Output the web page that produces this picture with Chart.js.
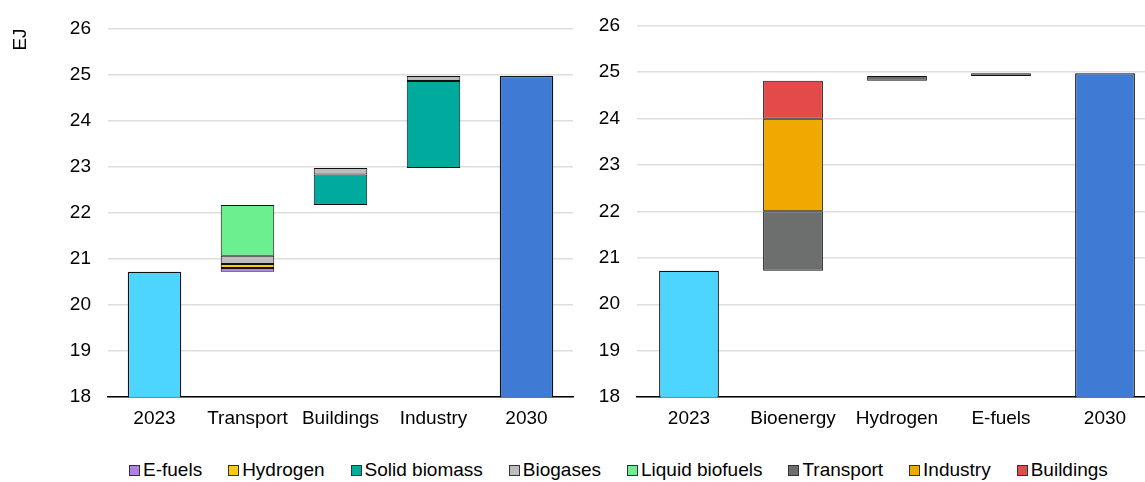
<!DOCTYPE html>
<html>
<head>
<meta charset="utf-8">
<script src="https://cdn.jsdelivr.net/npm/chart.js@4"></script>
<style>
  html, body { margin: 0; padding: 0; background: #fff; overflow: hidden; width: 1145px; height: 482px; }
  .box { position: absolute; }
  #leftBox { left: 0; top: 0; width: 580px; height: 440px; }
  #rightBox { left: 580px; top: -3px; width: 580px; height: 443px; }
  #legend { position: absolute; left: 129px; top: 459px; display: flex; align-items: center;
            font: 19px "Liberation Sans", Arial, sans-serif; color: #000; white-space: nowrap; }
  .item { display: flex; align-items: center; margin-right: 26px; }
  .sw { width: 9px; height: 9px; border: 1px solid #333; margin-right: 3px; }
</style>
</head>
<body>
<div class="box" id="leftBox"><canvas id="leftChart"></canvas></div>
<div class="box" id="rightBox"><canvas id="rightChart"></canvas></div>
<div id="legend"></div>
<script>
// Left panel: by fuel
const leftCategories = ['2023', 'Transport', 'Buildings', 'Industry', '2030'];
const leftTotals = [20.72, null, null, null, 24.97];
const eFuels = [null, 0.08, null, null, null];
const hydrogen = [null, 0.09, null, null, null];
const solidBiomass = [null, null, 0.66, 1.89, null];
const biogases = [null, 0.18, 0.14, 0.11, null];
const liquidBiofuels = [null, 1.10, null, null, null];

// Right panel: by sector
const rightCategories = ['2023', 'Bioenergy', 'Hydrogen', 'E-fuels', '2030'];
const rightTotals = [20.72, null, null, null, 24.97];
const transport = [null, 1.28, 0.10, 0.06, null];
const industry = [null, 1.99, null, null, null];
const buildings = [null, 0.82, null, null, null];

const yMin = 18;
const yMax = 26;
const totalColors = ['#4dd4ff', null, null, null, '#3f7bd4'];

const leftSeries = [
    { name: 'E-fuels', data: eFuels, color: '#b07fe8' },
    { name: 'Hydrogen', data: hydrogen, color: '#fcc917' },
    { name: 'Solid biomass', data: solidBiomass, color: '#00ab9d' },
    { name: 'Biogases', data: biogases, color: '#bdbdbd' },
    { name: 'Liquid biofuels', data: liquidBiofuels, color: '#6cf08f' }
];
const rightSeries = [
    { name: 'Transport', data: transport, color: '#6d6f6e' },
    { name: 'Industry', data: industry, color: '#f0a900' },
    { name: 'Buildings', data: buildings, color: '#e34b4b' }
];

Chart.defaults.font.family = '"Liberation Sans", Arial, sans-serif';
Chart.defaults.font.size = 19;
Chart.defaults.color = '#000';

// invisible floor under each step of the waterfall
function waterfallBase(totals, series) {
    let level = totals[0];
    return totals.map((t, i) => {
        if (t !== null) return null;
        const b = level;
        series.forEach(s => { level += s.data[i] || 0; });
        return b;
    });
}

function makeChart(canvasId, categories, totals, series, yWidth, pad, showTitle) {
    const datasets = [
        { label: 'base', data: waterfallBase(totals, series), backgroundColor: 'rgba(0,0,0,0)', borderWidth: 0 },
        { label: 'total', data: totals, backgroundColor: totalColors, borderColor: '#111', borderWidth: 1.3, borderSkipped: false }
    ];
    series.forEach(s => {
        datasets.push({
            label: s.name,
            data: s.data,
            backgroundColor: s.color,
            borderColor: '#111',
            borderWidth: 1,
            borderSkipped: false
        });
    });

    return new Chart(document.getElementById(canvasId), {
        type: 'bar',
        data: { labels: categories, datasets: datasets },
        options: {
            responsive: true,
            maintainAspectRatio: false,
            animation: false,
            layout: { padding: pad },
            datasets: { bar: { categoryPercentage: 1, barPercentage: 0.575 } },
            plugins: { legend: { display: false }, tooltip: { enabled: false } },
            scales: {
                x: {
                    stacked: true,
                    grid: { display: false, drawTicks: false },
                    border: { display: true, color: '#000', width: 1.5 },
                    ticks: { padding: 10 }
                },
                y: {
                    stacked: true,
                    min: yMin,
                    max: yMax,
                    ticks: { stepSize: 1, padding: 17 },
                    grid: { color: '#dedede', lineWidth: 1.5, drawTicks: false },
                    border: { display: false },
                    title: { display: showTitle, text: 'EJ', align: 'end', padding: { top: 9, bottom: 0 } },
                    afterFit: scale => { scale.width = yWidth; }
                }
            }
        }
    });
}

makeChart('leftChart', leftCategories, leftTotals, leftSeries, 108, { top: 25, right: 7, bottom: 0, left: 0 }, true);
makeChart('rightChart', rightCategories, rightTotals, rightSeries, 57, { top: 17, right: 3, bottom: 0, left: 0 }, false);

// shared legend under both panels
const legend = document.getElementById('legend');
leftSeries.concat(rightSeries).forEach(s => {
    const item = document.createElement('div');
    item.className = 'item';
    item.innerHTML = `<span class="sw" style="background:${s.color}"></span><span>${s.name}</span>`;
    legend.appendChild(item);
});
</script>
</body>
</html>
